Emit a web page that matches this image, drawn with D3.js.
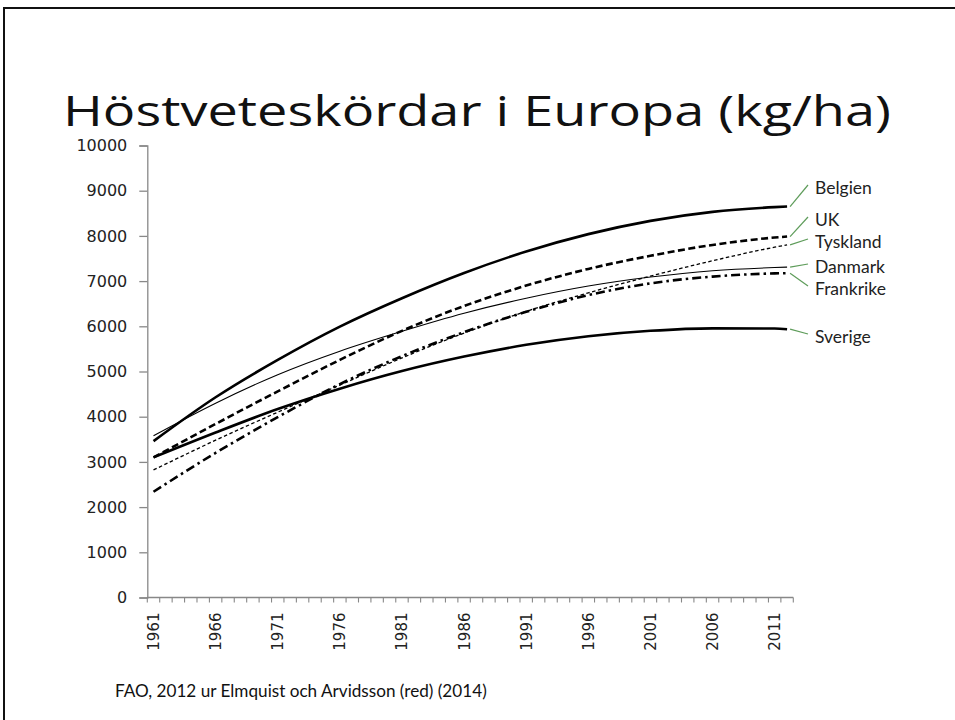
<!DOCTYPE html>
<html>
<head>
<meta charset="utf-8">
<script src="https://cdn.jsdelivr.net/npm/d3@7"></script>
<style>
  body { margin: 0; background: #fff; }
  svg { display: block; }
</style>
</head>
<body>
<svg id="chart"></svg>
<script>
var years = d3.range(1961, 2013);
var tickYears = [1961, 1966, 1971, 1976, 1981, 1986, 1991, 1996, 2001, 2006, 2011];
var pointYears = [1961, 1966, 1971, 1976, 1981, 1986, 1991, 1996, 2001, 2006, 2011, 2012];
var yTicks = [0, 1000, 2000, 3000, 4000, 5000, 6000, 7000, 8000, 9000, 10000];

var belgien   = [3460, 4430, 5257, 5994, 6622, 7180, 7654, 8039, 8333, 8532, 8636, 8650];
var uk        = [3100, 3840, 4560, 5257, 5900, 6450, 6900, 7270, 7560, 7800, 7964, 7986];
var tyskland  = [2822, 3480, 4100, 4700, 5300, 5850, 6330, 6740, 7110, 7450, 7750, 7802];
var danmark   = [3580, 4300, 4930, 5450, 5890, 6290, 6620, 6890, 7090, 7230, 7300, 7309];
var frankrike = [2340, 3200, 3990, 4720, 5340, 5870, 6320, 6690, 6950, 7100, 7170, 7176];
var sverige   = [3100, 3650, 4170, 4620, 5010, 5330, 5590, 5780, 5900, 5955, 5950, 5936];

var names = ['Belgien', 'UK', 'Tyskland', 'Danmark', 'Frankrike', 'Sverige'];
var values = [belgien, uk, tyskland, danmark, frankrike, sverige];

// Stil pro Linie
var widths = [2.6, 2.6, 1.3, 1.1, 2.6, 2.6];
var dashes = [null, '7,3.5', '3.5,2.5', null, '9,4,2.5,4', null];
var labelY = [188, 220, 242, 267, 289, 337];

var W = 955, H = 720;
var svg = d3.select('#chart').attr('width', W).attr('height', H);

// Folienrahmen
svg.append('path')
  .attr('d', 'M4,' + H + ' V8 H' + W)
  .attr('fill', 'none')
  .attr('stroke', '#111')
  .attr('stroke-width', 2);

// Titel
svg.append('text')
  .attr('x', 63)
  .attr('y', 126)
  .attr('font-family', '"Open Sans", Lato, sans-serif')
  .attr('font-size', 42)
  .attr('fill', '#111')
  .attr('textLength', 828)
  .attr('lengthAdjust', 'spacingAndGlyphs')
  .text('Höstveteskördar i Europa (kg/ha)');

// Skalen
var x = d3.scaleBand().domain(years).range([147.3, 793.3]).padding(0);
var y = d3.scaleLinear().domain([0, 10000]).range([597.5, 145.5]);
var cx = function(yr) { return x(yr) + x.bandwidth() / 2; };

// Y-Achse
var yAxis = svg.append('g')
  .attr('transform', 'translate(147.3,0)')
  .call(d3.axisLeft(y).tickValues(yTicks).tickSize(8).tickPadding(12).tickFormat(d3.format('d')));
yAxis.select('.domain').attr('stroke', '#888').attr('stroke-width', 1.3);
yAxis.selectAll('.tick line').attr('stroke', '#888').attr('stroke-width', 1.3);
yAxis.selectAll('.tick text')
  .attr('font-family', '"DejaVu Sans", sans-serif')
  .attr('font-size', 16)
  .attr('fill', '#222');

// X-Achse: Striche an den Kategoriegrenzen
var xg = svg.append('g').attr('transform', 'translate(0,597.5)');
xg.append('line')
  .attr('x1', 147.3).attr('x2', 793.3)
  .attr('stroke', '#888').attr('stroke-width', 1.3);
xg.selectAll('line.tk')
  .data(years.concat([2013]))
  .enter().append('line')
  .attr('class', 'tk')
  .attr('x1', function(d) { return d === 2013 ? 793.3 : x(d); })
  .attr('x2', function(d) { return d === 2013 ? 793.3 : x(d); })
  .attr('y1', 0).attr('y2', 5)
  .attr('stroke', '#888').attr('stroke-width', 1.1);
xg.selectAll('text')
  .data(tickYears)
  .enter().append('text')
  .attr('transform', function(d) { return 'translate(' + (cx(d) + 5.5) + ',15) rotate(-90)'; })
  .attr('text-anchor', 'end')
  .attr('font-family', '"DejaVu Sans", sans-serif')
  .attr('font-size', 15)
  .attr('fill', '#222')
  .text(function(d) { return d; });

// Linien
var line = d3.line()
  .x(function(d, i) { return cx(pointYears[i]); })
  .y(function(d) { return y(d); })
  .curve(d3.curveMonotoneX);

svg.selectAll('path.series')
  .data(values)
  .enter().append('path')
  .attr('class', 'series')
  .attr('d', line)
  .attr('fill', 'none')
  .attr('stroke', '#000')
  .attr('stroke-width', function(d, i) { return widths[i]; })
  .attr('stroke-dasharray', function(d, i) { return dashes[i]; });

// Beschriftungen mit grünen Hinweislinien
names.forEach(function(n, i) {
  var last = values[i][values[i].length - 1];
  svg.append('line')
    .attr('x1', cx(2012) + 3).attr('y1', y(last))
    .attr('x2', 808).attr('y2', labelY[i] - 3)
    .attr('stroke', '#5e9c5a').attr('stroke-width', 1.2);
  svg.append('text')
    .attr('x', 815)
    .attr('y', labelY[i])
    .attr('dy', '0.35em')
    .attr('font-family', 'Lato, "Open Sans", sans-serif')
    .attr('font-size', 17.5)
    .attr('fill', '#222')
    .text(n);
});

// Quelle
var src = svg.append('text')
  .attr('x', 115)
  .attr('y', 697)
  .attr('font-family', 'Lato, "Open Sans", sans-serif')
  .attr('font-size', 17)
  .attr('fill', '#111')
  .text('FAO, 2012 ur Elmquist och Arvidsson (red) (2014)');
var sw = src.node().getComputedTextLength();
src.attr('font-size', 17 * 372 / sw);
</script>
</body>
</html>
